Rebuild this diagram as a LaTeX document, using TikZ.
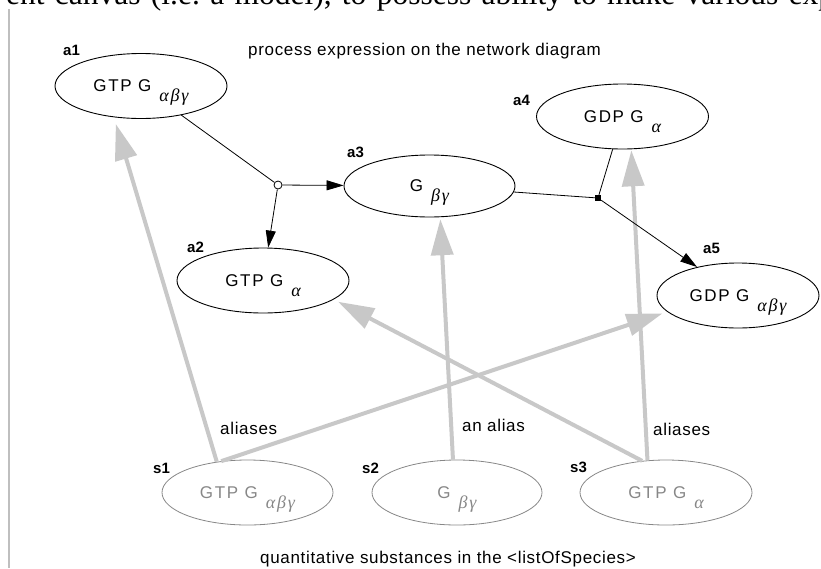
\documentclass[tikz,border=0pt]{standalone}
\usepackage{fontspec}
\setmainfont{Liberation Sans}
\newfontfamily\txtfont{Liberation Sans}[LetterSpace=4]
\newfontfamily\nmfont{Liberation Sans}[LetterSpace=10]
\newfontfamily\grkfont{Liberation Serif}[LetterSpace=10]
\newfontfamily\pagefont{Liberation Serif}
\usetikzlibrary{arrows.meta,shapes.geometric}
\definecolor{aliascol}{RGB}{200,200,200}
\definecolor{spgray}{RGB}{135,135,135}
\newcommand\spname[2]{{\nmfont\fontsize{17}{17}\selectfont #1}\hspace{8pt}\raisebox{-10pt}[0pt][0pt]{\grkfont\itshape\fontsize{18}{18}\selectfont #2}}
\tikzset{
  ent/.style={ellipse, draw, line width=0.9pt, inner sep=0pt, minimum width=172pt, minimum height=65pt},
  spc/.style={ent, draw=spgray, text=spgray, line width=0.8pt},
  idlbl/.style={anchor=base west, inner sep=0pt, font=\fontsize{15}{15}\selectfont\bfseries},
  note/.style={anchor=base west, inner sep=0pt, font=\txtfont\fontsize{17}{17}\selectfont},
  aliasarrow/.style={draw=aliascol, line width=4pt, -{Triangle[length=36pt,width=22pt]}},
  reac/.style={line width=0.8pt},
  prod/.style={reac, -{Triangle[length=17pt,width=10pt]}},
}
\begin{document}
\begin{tikzpicture}[x=1pt,y=-1pt]
\useasboundingbox (0,0) rectangle (821,568);
\begin{scope}
\clip (0,0) rectangle (821,568);
\node[anchor=base west, inner sep=0pt, font=\pagefont\fontsize{31.5}{32}\selectfont] (pg) at (6,4)
  {\frenchspacing\spaceskip=10.3pt\relax ent canvas (i.e. a model), to possess ability to make various exp};
\end{scope}
\draw[line width=2pt, draw=black!25] (8.5,9) -- (8.5,568);

% entity nodes
\node[ent] (a1) at (141,86) {\spname{GTP G}{αβγ}};
\node[ent] (a2) at (263,280.5) {\spname{GTP G}{α}};
\node[ent, minimum width=171pt, minimum height=62pt] (a3) at (429.5,186) {\spname{G}{βγ}};
\node[ent] (a4) at (622.5,116.5) {\spname{GDP G}{α}};
\node[ent, minimum width=162pt] (a5) at (738,295.5) {\spname{GDP G}{αβγ}};
\node[spc, minimum width=171pt] (s1) at (247.5,492.5) {\spname{GTP G}{αβγ}};
\node[spc, minimum width=170pt] (s2) at (457,492.5) {\spname{G}{βγ}};
\node[spc] (s3) at (666,492.5) {\spname{GTP G}{α}};

% id labels
\node[idlbl] (la1) at (63,55) {a1};
\node[idlbl] (la2) at (187,252) {a2};
\node[idlbl] (la3) at (347,157) {a3};
\node[idlbl] (la4) at (513,105) {a4};
\node[idlbl] (la5) at (703,253) {a5};
\node[idlbl] (ls1) at (153,473) {s1};
\node[idlbl] (ls2) at (362,473) {s2};
\node[idlbl] (ls3) at (570,472) {s3};

% process nodes
\node[circle, draw, fill=white, inner sep=0pt, minimum size=8pt, line width=0.8pt] (c) at (278,185) {};
\node[rectangle, fill=black, inner sep=0pt, minimum size=6pt] (q) at (598,198) {};

% alias arrows
\draw[aliasarrow, shorten >=7pt] (s1.135) -- (a1.229);
\draw[aliasarrow, shorten >=5pt] (s1.130) -- (a5.193);
\draw[aliasarrow, shorten >=2pt] (s2.97) -- (a3.-71);
\draw[aliasarrow, shorten >=5pt] (s3.127) -- (a2.-15);
\draw[aliasarrow, shorten >=1pt] (s3.120) -- (a4.-75);

% reactions
\draw[reac] (a1) -- (c);
\draw[prod] (c) -- (a3);
\draw[prod] (c) -- (a2);
\draw[reac] (a3) -- (q);
\draw[reac] (a4) -- (q);
\draw[prod] (q) -- (a5);

% texts
\node[note] (t1) at (248,55) {process expression on the network diagram};
\node[note] (t2) at (260,563) {quantitative substances in the <listOfSpecies>};
\node[note] (l1) at (220,434) {aliases};
\node[note] (l2) at (462,431.7) {an alias};
\node[note] (l3) at (653,435) {aliases};
\end{tikzpicture}
\end{document}
